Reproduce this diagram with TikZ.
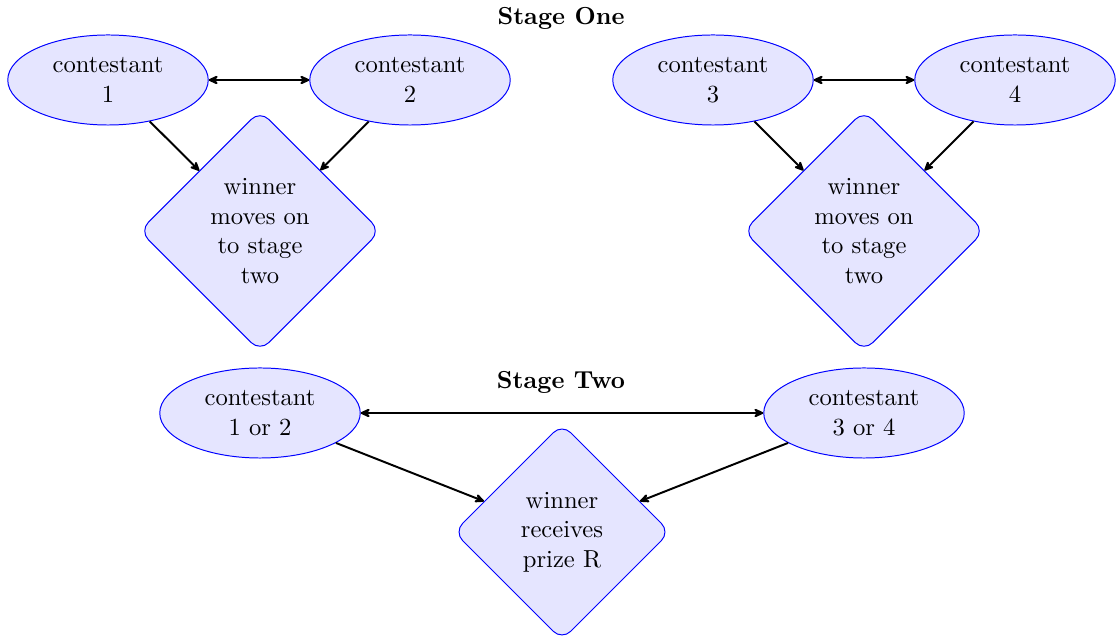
\documentclass[tikz,border=0pt]{standalone}
\usetikzlibrary{shapes.geometric,arrows.meta}
\begin{document}
\begin{tikzpicture}[x=0.4065pt,y=-0.4065pt,>={Stealth[length=5pt,width=4.6pt,inset=1.8pt,round]},
  player/.style={ellipse, draw=blue, fill=blue!10, minimum width=81.5pt, minimum height=36.6pt, inner sep=1pt, align=center},
  outcome/.style={diamond, draw=blue, fill=blue!10, rounded corners=5pt, inner sep=0pt, align=center, minimum size=98pt},
  link/.style={thick,->},
  both/.style={thick,<->},
  title/.style={font=\bfseries}]
\useasboundingbox (0,0) rectangle (1117,636);
\node[title] (t1) at (561,18) {Stage One};
\node[title] (t2) at (561,382) {Stage Two};
\node[player] (c1) at (108,80) {contestant\\1};
\node[player] (c2) at (410,80) {contestant\\2};
\node[player] (c3) at (713,80) {contestant\\3};
\node[player] (c4) at (1015,80) {contestant\\4};
\node[outcome] (d1) at (260,231) {winner\\moves on\\to stage\\two};
\node[outcome] (d2) at (864,231) {winner\\moves on\\to stage\\two};
\node[player] (c12) at (260,413) {contestant\\1 or 2};
\node[player] (c34) at (864,413) {contestant\\3 or 4};
\node[outcome, minimum size=88pt] (d3) at (562,532) {winner\\receives\\prize R};
\draw[both] (c1) -- (c2);
\draw[both] (c3) -- (c4);
\draw[both] (c12) -- (c34);
\draw[link] (c1) -- (d1);
\draw[link] (c2) -- (d1);
\draw[link] (c3) -- (d2);
\draw[link] (c4) -- (d2);
\draw[link] (c12) -- (d3);
\draw[link] (c34) -- (d3);
\end{tikzpicture}
\end{document}
